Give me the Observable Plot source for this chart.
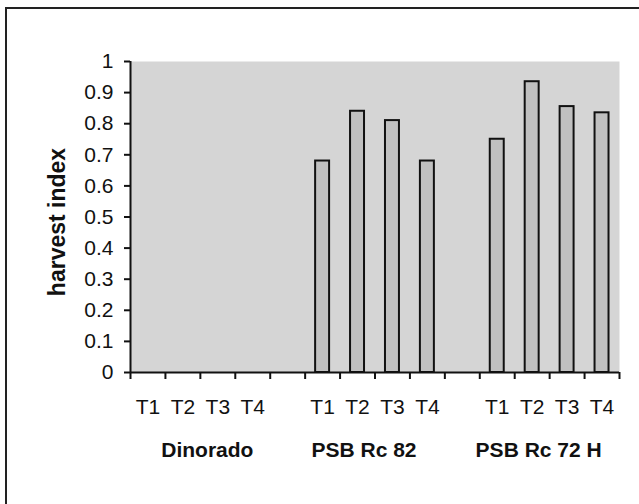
<!DOCTYPE html>
<html>
<head>
<meta charset="utf-8">
<script src="https://cdn.jsdelivr.net/npm/d3@7"></script>
<script src="https://cdn.jsdelivr.net/npm/@observablehq/plot@0.6"></script>
<style>
  html, body { margin: 0; padding: 0; background: #fff; overflow: hidden; }
  #wrap { position: relative; width: 639px; height: 504px; }
  #border { position: absolute; left: 5px; top: 7px; width: 700px; height: 600px;
            border-left: 2px solid #222; border-top: 2px solid #222; pointer-events: none; }
  svg text { font-family: "Liberation Sans", Arial, sans-serif; }
</style>
</head>
<body>
<div id="wrap"><div id="chart"></div><div id="border"></div></div>
<script>
const groups = ["Dinorado", "PSB Rc 82", "PSB Rc 72 H"];
const treatments = ["T1", "T2", "T3", "T4"];
const dinorado = [0, 0, 0, 0];
const psbRc82 = [0.68, 0.84, 0.81, 0.68];
const psbRc72H = [0.75, 0.935, 0.855, 0.835];
const yTicks = [0, 0.1, 0.2, 0.3, 0.4, 0.5, 0.6, 0.7, 0.8, 0.9, 1];

const seriesByGroup = [dinorado, psbRc82, psbRc72H];
const rows = [];
groups.forEach((g, gi) => treatments.forEach((t, ti) => {
  rows.push({group: g, treatment: t, value: seriesByGroup[gi][ti], slot: gi * 5 + ti});
}));
const nSlots = groups.length * 5 - 1;
const groupDx = [7, -11, -11];

const chart = Plot.plot({
  width: 639,
  height: 504,
  marginLeft: 130,
  marginRight: 20,
  marginTop: 61,
  marginBottom: 132,
  style: {fontFamily: "Liberation Sans, Arial, sans-serif", background: "transparent"},
  x: {type: "linear", domain: [0, nSlots], axis: null},
  y: {domain: [0, 1], axis: null},
  marks: [
    Plot.frame({fill: "#d5d5d5", stroke: null}),
    Plot.rectY(rows.filter(d => d.value > 0), {
      x1: d => d.slot + 0.3, x2: d => d.slot + 0.7, y: "value",
      fill: "#c0c0c0", stroke: "#111", strokeWidth: 2
    }),
    Plot.axisY({ticks: yTicks, tickFormat: d => String(d), tickSize: 6, tickPadding: 11,
                fontSize: 21, stroke: "#111", strokeWidth: 2, fill: "#111", label: null}),
    Plot.axisX({ticks: d3.range(nSlots + 1), tickFormat: () => "", tickSize: 7,
                stroke: "#111", strokeWidth: 2, label: null}),
    Plot.ruleX([0], {stroke: "#111", strokeWidth: 2}),
    Plot.ruleY([0], {stroke: "#111", strokeWidth: 2}),
    Plot.text(rows, {x: d => d.slot + 0.5, frameAnchor: "bottom", text: "treatment",
                     textAnchor: "middle", lineAnchor: "middle",
                     dy: 35, fontSize: 21, fill: "#111"}),
    ...groups.map((g, i) => Plot.text([g], {x: () => i * 5 + 2, frameAnchor: "bottom", text: d => d,
                     textAnchor: "middle", lineAnchor: "middle",
                     dy: 78, dx: groupDx[i], fontSize: 21, fontWeight: "bold", fill: "#111"})),
    Plot.text(["harvest index"], {frameAnchor: "left", text: d => d, rotate: -90,
                     textAnchor: "middle", lineAnchor: "middle",
                     dx: -73, dy: 5, fontSize: 23, fontWeight: "bold", fill: "#111"})
  ]
});
document.getElementById("chart").appendChild(chart);
</script>
</body>
</html>
